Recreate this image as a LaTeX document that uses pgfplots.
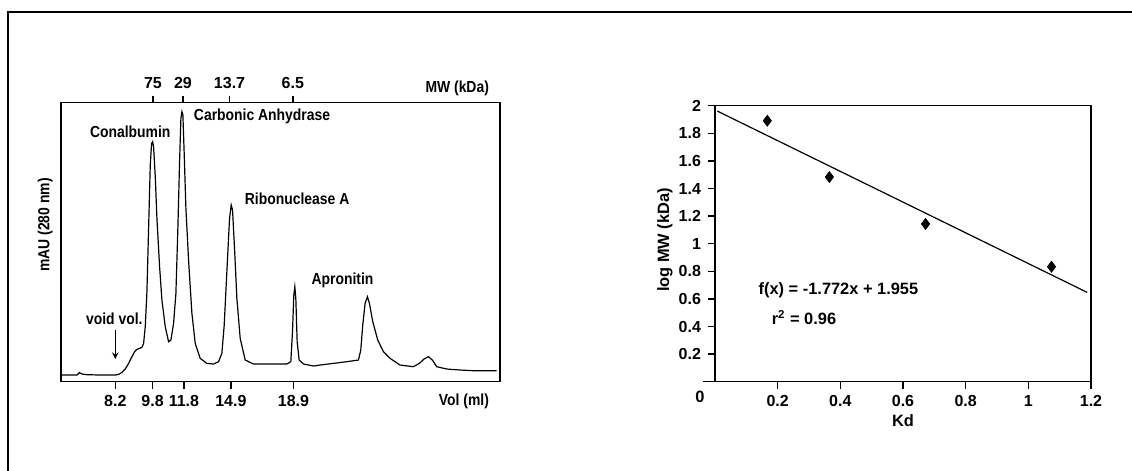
\documentclass[border=0pt]{standalone}
\usepackage{fontspec}
\setmainfont{Liberation Sans}
\newfontfamily\condfont{Liberation Sans}[FakeStretch=0.87]
\usepackage{pgfplots}
\pgfplotsset{compat=1.18}

% 1 px of the reference = 0.5pt
\pgfplotsset{
  gel/.style={
    scale only axis, clip=false,
    axis line style={line width=0.75pt},
    tick style={line width=0.75pt, black},
    tick align=outside, major tick length=3.5pt,
    every tick label/.append style={font=\fontsize{8}{9}\selectfont\bfseries},
    /pgf/number format/assume math mode=true,
  },
}
\tikzset{
  lbl/.style={font=\condfont\fontsize{8}{9}\selectfont\bfseries},
  rlbl/.style={font=\fontsize{8.2}{9}\selectfont\bfseries},
}

\begin{document}
\begin{tikzpicture}
\useasboundingbox (0,0) rectangle (566pt,235.5pt);
\draw[line width=1pt] (4pt,0) -- (4pt,229.5pt) -- (566pt,229.5pt);

% ---- chromatogram (x, y in traced pixel units) ----
\begin{axis}[gel,
  at={(30.5pt,44.65pt)}, anchor=south west,
  width=219.5pt, height=139.5pt,
  xmin=182, xmax=1500, ymin=0, ymax=837,
  ytick=\empty, xtick pos=left,
  xtick={345,457,551,692,880},
  xticklabels={8.2,9.8,11.8,14.9,18.9},
]
\addplot[black, line width=0.6pt] coordinates {
(182,20) (230,20) (237,27) (245,23) (260,21) (300,20) (345,20) (355,22)
(365,28) (375,38) (385,55) (395,75) (403,90) (410,97) (418,100) (425,103)
(430,115) (435,165) (440,270) (445,460) (450,650) (454,715) (457,720)
(460,705) (465,615) (470,490) (478,345) (485,245) (495,165) (505,120)
(512,125) (520,175) (527,265) (533,465) (538,660) (542,790) (545,810)
(548,800) (552,680) (557,520) (565,365) (575,205) (585,115) (600,70)
(620,55) (640,53) (655,60) (665,85) (672,170) (680,330) (688,490)
(693,530) (697,515) (703,400) (710,250) (720,130) (735,65) (760,53)
(800,53) (860,53) (872,60) (877,150) (881,260) (884,285) (887,250)
(891,120) (897,65) (910,53) (940,47) (960,50) (1000,55) (1040,60)
(1075,65) (1082,95) (1088,170) (1095,235) (1102,255) (1108,235)
(1118,180) (1133,125) (1150,90) (1170,70) (1200,50) (1240,45)
(1258,55) (1272,68) (1285,75) (1297,65) (1310,45) (1340,38) (1380,35)
(1420,33) (1490,33)};
\node[lbl] at (axis cs:390,750) {Conalbumin};
\node[lbl, anchor=west] at (axis cs:560,795) {Carbonic Anhydrase};
\node[lbl, anchor=west] at (axis cs:713,550) {Ribonuclease A};
\node[lbl, anchor=west] at (axis cs:913,305) {Apronitin};
\node[lbl] at (axis cs:342,190) {void vol.};
\draw[-stealth, line width=0.5pt] (axis cs:345,155) -- (axis cs:345,68);
\node[lbl, anchor=east] at (axis cs:1488,-60) {Vol (ml)};
\node[lbl, anchor=east] at (axis cs:1488,881) {MW (kDa)};
\node[lbl, rotate=90] at (axis cs:135,470) {mAU (280 nm)};
\end{axis}

\begin{axis}[gel,
  at={(30.5pt,44.65pt)}, anchor=south west,
  width=219.5pt, height=139.5pt,
  xmin=182, xmax=1500, ymin=0, ymax=837,
  ytick=\empty, xtick pos=right, xticklabel pos=right,
  xtick={458,548,688,878},
  xticklabels={75,29,13.7,6.5},
]
\end{axis}

% ---- calibration plot ----
\begin{axis}[gel,
  at={(357.5pt,44.65pt)}, anchor=south west,
  width=188pt, height=138pt,
  xmin=0, xmax=1.2, ymin=0, ymax=2,
  xtick={0.2,0.4,0.6,0.8,1,1.2}, ytick={0.2,0.4,...,2},
  xtick pos=left, ytick pos=left,
]
\addplot[only marks, mark=diamond*, mark size=2.7pt, black] coordinates {
(0.167,1.891) (0.365,1.483) (0.672,1.143) (1.074,0.833)};
\addplot[black, line width=0.6pt] coordinates {(0.0074,1.961) (1.188,0.647)};
\draw[line width=0.75pt] (axis cs:-0.038,0) -- (axis cs:0,0);
\node[rlbl] at (axis cs:-0.048,-0.111) {0};
\node[rlbl] at (axis cs:0.394,0.659) {f(x) = -1.772x + 1.955};
\node[rlbl] at (axis cs:0.284,0.466) {r\textsuperscript{2} = 0.96};
\node[rlbl] at (axis cs:0.6,-0.285) {Kd};
\node[rlbl, rotate=90] at (axis cs:-0.16,1.027) {log MW (kDa)};
\end{axis}
\end{tikzpicture}
\end{document}
